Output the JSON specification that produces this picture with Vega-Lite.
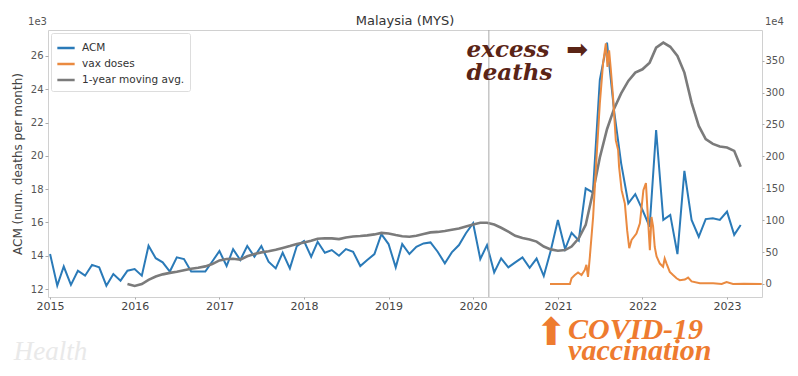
{
  "$schema": "https://vega.github.io/schema/vega-lite/v6.json",
  "width": 714,
  "height": 267,
  "autosize": {"type": "none"},
  "padding": {"left": 48, "top": 30, "right": 36, "bottom": 79},
  "background": "white",
  "config": {
    "font": "DejaVu Sans",
    "view": {"stroke": "#d0d0d0", "strokeWidth": 1},
    "axis": {"domain": false, "grid": false, "labelColor": "#555555", "tickColor": "#aaaaaa", "labelFont": "DejaVu Sans", "titleFont": "DejaVu Sans", "titleFontWeight": "normal", "titleColor": "#444444", "labelOverlap": false},
    "legend": {"orient": "top-left", "offset": 3, "strokeColor": "#dddddd", "fillColor": "white", "padding": 5, "cornerRadius": 2, "symbolType": "stroke", "symbolStrokeWidth": 2.5, "symbolSize": 300, "labelFontSize": 10.5, "labelColor": "#333333", "labelFont": "DejaVu Sans", "rowPadding": -1, "labelOffset": 6}
  },
  "title": {"text": "Malaysia (MYS)", "fontSize": 13, "fontWeight": "normal", "color": "#333333", "offset": 4, "dy": 15, "font": "DejaVu Sans"},
  "datasets": {
    "acm": [
      {"date": "2015-01-01", "series": "ACM", "value": 14.1},
      {"date": "2015-02-01", "series": "ACM", "value": 12.2},
      {"date": "2015-03-01", "series": "ACM", "value": 13.35},
      {"date": "2015-04-01", "series": "ACM", "value": 12.25},
      {"date": "2015-05-01", "series": "ACM", "value": 13.1},
      {"date": "2015-06-01", "series": "ACM", "value": 12.8},
      {"date": "2015-07-01", "series": "ACM", "value": 13.45},
      {"date": "2015-08-01", "series": "ACM", "value": 13.3},
      {"date": "2015-09-01", "series": "ACM", "value": 12.2},
      {"date": "2015-10-01", "series": "ACM", "value": 12.9},
      {"date": "2015-11-01", "series": "ACM", "value": 12.5},
      {"date": "2015-12-01", "series": "ACM", "value": 13.1},
      {"date": "2016-01-01", "series": "ACM", "value": 13.2},
      {"date": "2016-02-01", "series": "ACM", "value": 12.8},
      {"date": "2016-03-01", "series": "ACM", "value": 14.6},
      {"date": "2016-04-01", "series": "ACM", "value": 13.85},
      {"date": "2016-05-01", "series": "ACM", "value": 13.6},
      {"date": "2016-06-01", "series": "ACM", "value": 13.05},
      {"date": "2016-07-01", "series": "ACM", "value": 13.9},
      {"date": "2016-08-01", "series": "ACM", "value": 13.8},
      {"date": "2016-09-01", "series": "ACM", "value": 13.05},
      {"date": "2016-10-01", "series": "ACM", "value": 13.05},
      {"date": "2016-11-01", "series": "ACM", "value": 13.05},
      {"date": "2016-12-01", "series": "ACM", "value": 13.65},
      {"date": "2017-01-01", "series": "ACM", "value": 14.28},
      {"date": "2017-02-01", "series": "ACM", "value": 13.38},
      {"date": "2017-03-01", "series": "ACM", "value": 14.39},
      {"date": "2017-04-01", "series": "ACM", "value": 13.74},
      {"date": "2017-05-01", "series": "ACM", "value": 14.58},
      {"date": "2017-06-01", "series": "ACM", "value": 13.94},
      {"date": "2017-07-01", "series": "ACM", "value": 14.58},
      {"date": "2017-08-01", "series": "ACM", "value": 13.64},
      {"date": "2017-09-01", "series": "ACM", "value": 13.24},
      {"date": "2017-10-01", "series": "ACM", "value": 14.18},
      {"date": "2017-11-01", "series": "ACM", "value": 13.24},
      {"date": "2017-12-01", "series": "ACM", "value": 14.58},
      {"date": "2018-01-01", "series": "ACM", "value": 14.88},
      {"date": "2018-02-01", "series": "ACM", "value": 13.94},
      {"date": "2018-03-01", "series": "ACM", "value": 14.84},
      {"date": "2018-04-01", "series": "ACM", "value": 14.18},
      {"date": "2018-05-01", "series": "ACM", "value": 14.34},
      {"date": "2018-06-01", "series": "ACM", "value": 14.0},
      {"date": "2018-07-01", "series": "ACM", "value": 14.4},
      {"date": "2018-08-01", "series": "ACM", "value": 14.24},
      {"date": "2018-09-01", "series": "ACM", "value": 13.38},
      {"date": "2018-10-01", "series": "ACM", "value": 13.74},
      {"date": "2018-11-01", "series": "ACM", "value": 14.1},
      {"date": "2018-12-01", "series": "ACM", "value": 15.3},
      {"date": "2019-01-01", "series": "ACM", "value": 14.7},
      {"date": "2019-02-01", "series": "ACM", "value": 13.3},
      {"date": "2019-03-01", "series": "ACM", "value": 14.7},
      {"date": "2019-04-01", "series": "ACM", "value": 14.1},
      {"date": "2019-05-01", "series": "ACM", "value": 14.54},
      {"date": "2019-06-01", "series": "ACM", "value": 14.74},
      {"date": "2019-07-01", "series": "ACM", "value": 14.8},
      {"date": "2019-08-01", "series": "ACM", "value": 14.24},
      {"date": "2019-09-01", "series": "ACM", "value": 13.54},
      {"date": "2019-10-01", "series": "ACM", "value": 14.2},
      {"date": "2019-11-01", "series": "ACM", "value": 14.64},
      {"date": "2019-12-01", "series": "ACM", "value": 15.35},
      {"date": "2020-01-01", "series": "ACM", "value": 15.95},
      {"date": "2020-02-01", "series": "ACM", "value": 13.8},
      {"date": "2020-03-01", "series": "ACM", "value": 14.64},
      {"date": "2020-04-01", "series": "ACM", "value": 13.0},
      {"date": "2020-05-01", "series": "ACM", "value": 13.84},
      {"date": "2020-06-01", "series": "ACM", "value": 13.3},
      {"date": "2020-07-01", "series": "ACM", "value": 13.6},
      {"date": "2020-08-01", "series": "ACM", "value": 13.9},
      {"date": "2020-09-01", "series": "ACM", "value": 13.27},
      {"date": "2020-10-01", "series": "ACM", "value": 13.83},
      {"date": "2020-11-01", "series": "ACM", "value": 12.78},
      {"date": "2020-12-01", "series": "ACM", "value": 14.3},
      {"date": "2021-01-01", "series": "ACM", "value": 16.15},
      {"date": "2021-02-01", "series": "ACM", "value": 14.4},
      {"date": "2021-03-01", "series": "ACM", "value": 15.38},
      {"date": "2021-04-01", "series": "ACM", "value": 14.92},
      {"date": "2021-05-01", "series": "ACM", "value": 18.05},
      {"date": "2021-06-01", "series": "ACM", "value": 17.8},
      {"date": "2021-07-01", "series": "ACM", "value": 24.56},
      {"date": "2021-08-01", "series": "ACM", "value": 26.8},
      {"date": "2021-09-01", "series": "ACM", "value": 22.65},
      {"date": "2021-10-01", "series": "ACM", "value": 19.55},
      {"date": "2021-11-01", "series": "ACM", "value": 17.15},
      {"date": "2021-12-01", "series": "ACM", "value": 17.7},
      {"date": "2022-01-01", "series": "ACM", "value": 16.75},
      {"date": "2022-02-01", "series": "ACM", "value": 15.74},
      {"date": "2022-03-01", "series": "ACM", "value": 21.55},
      {"date": "2022-04-01", "series": "ACM", "value": 16.15},
      {"date": "2022-05-01", "series": "ACM", "value": 16.45},
      {"date": "2022-06-01", "series": "ACM", "value": 14.1},
      {"date": "2022-07-01", "series": "ACM", "value": 19.1},
      {"date": "2022-08-01", "series": "ACM", "value": 16.15},
      {"date": "2022-09-01", "series": "ACM", "value": 15.14},
      {"date": "2022-10-01", "series": "ACM", "value": 16.2},
      {"date": "2022-11-01", "series": "ACM", "value": 16.25},
      {"date": "2022-12-01", "series": "ACM", "value": 16.15},
      {"date": "2023-01-01", "series": "ACM", "value": 16.65},
      {"date": "2023-02-01", "series": "ACM", "value": 15.25},
      {"date": "2023-03-01", "series": "ACM", "value": 15.85}
    ],
    "avg": [
      {"date": "2015-12-01", "series": "1-year moving avg.", "value": 12.3},
      {"date": "2016-01-01", "series": "1-year moving avg.", "value": 12.18},
      {"date": "2016-02-01", "series": "1-year moving avg.", "value": 12.3},
      {"date": "2016-03-01", "series": "1-year moving avg.", "value": 12.55},
      {"date": "2016-04-01", "series": "1-year moving avg.", "value": 12.75},
      {"date": "2016-05-01", "series": "1-year moving avg.", "value": 12.88},
      {"date": "2016-06-01", "series": "1-year moving avg.", "value": 12.97},
      {"date": "2016-07-01", "series": "1-year moving avg.", "value": 13.04},
      {"date": "2016-08-01", "series": "1-year moving avg.", "value": 13.13},
      {"date": "2016-09-01", "series": "1-year moving avg.", "value": 13.22},
      {"date": "2016-10-01", "series": "1-year moving avg.", "value": 13.28},
      {"date": "2016-11-01", "series": "1-year moving avg.", "value": 13.36},
      {"date": "2016-12-01", "series": "1-year moving avg.", "value": 13.5},
      {"date": "2017-01-01", "series": "1-year moving avg.", "value": 13.72},
      {"date": "2017-02-01", "series": "1-year moving avg.", "value": 13.8},
      {"date": "2017-03-01", "series": "1-year moving avg.", "value": 13.82},
      {"date": "2017-04-01", "series": "1-year moving avg.", "value": 13.76},
      {"date": "2017-05-01", "series": "1-year moving avg.", "value": 13.97},
      {"date": "2017-06-01", "series": "1-year moving avg.", "value": 14.1},
      {"date": "2017-07-01", "series": "1-year moving avg.", "value": 14.2},
      {"date": "2017-08-01", "series": "1-year moving avg.", "value": 14.27},
      {"date": "2017-09-01", "series": "1-year moving avg.", "value": 14.36},
      {"date": "2017-10-01", "series": "1-year moving avg.", "value": 14.47},
      {"date": "2017-11-01", "series": "1-year moving avg.", "value": 14.58},
      {"date": "2017-12-01", "series": "1-year moving avg.", "value": 14.7},
      {"date": "2018-01-01", "series": "1-year moving avg.", "value": 14.8},
      {"date": "2018-02-01", "series": "1-year moving avg.", "value": 14.9},
      {"date": "2018-03-01", "series": "1-year moving avg.", "value": 15.02},
      {"date": "2018-04-01", "series": "1-year moving avg.", "value": 15.05},
      {"date": "2018-05-01", "series": "1-year moving avg.", "value": 15.04},
      {"date": "2018-06-01", "series": "1-year moving avg.", "value": 15.0},
      {"date": "2018-07-01", "series": "1-year moving avg.", "value": 15.1},
      {"date": "2018-08-01", "series": "1-year moving avg.", "value": 15.15},
      {"date": "2018-09-01", "series": "1-year moving avg.", "value": 15.18},
      {"date": "2018-10-01", "series": "1-year moving avg.", "value": 15.22},
      {"date": "2018-11-01", "series": "1-year moving avg.", "value": 15.28},
      {"date": "2018-12-01", "series": "1-year moving avg.", "value": 15.37},
      {"date": "2019-01-01", "series": "1-year moving avg.", "value": 15.33},
      {"date": "2019-02-01", "series": "1-year moving avg.", "value": 15.24},
      {"date": "2019-03-01", "series": "1-year moving avg.", "value": 15.17},
      {"date": "2019-04-01", "series": "1-year moving avg.", "value": 15.14},
      {"date": "2019-05-01", "series": "1-year moving avg.", "value": 15.2},
      {"date": "2019-06-01", "series": "1-year moving avg.", "value": 15.3},
      {"date": "2019-07-01", "series": "1-year moving avg.", "value": 15.4},
      {"date": "2019-08-01", "series": "1-year moving avg.", "value": 15.43},
      {"date": "2019-09-01", "series": "1-year moving avg.", "value": 15.49},
      {"date": "2019-10-01", "series": "1-year moving avg.", "value": 15.56},
      {"date": "2019-11-01", "series": "1-year moving avg.", "value": 15.63},
      {"date": "2019-12-01", "series": "1-year moving avg.", "value": 15.75},
      {"date": "2020-01-01", "series": "1-year moving avg.", "value": 15.88},
      {"date": "2020-02-01", "series": "1-year moving avg.", "value": 15.98},
      {"date": "2020-03-01", "series": "1-year moving avg.", "value": 15.98},
      {"date": "2020-04-01", "series": "1-year moving avg.", "value": 15.87},
      {"date": "2020-05-01", "series": "1-year moving avg.", "value": 15.68},
      {"date": "2020-06-01", "series": "1-year moving avg.", "value": 15.45},
      {"date": "2020-07-01", "series": "1-year moving avg.", "value": 15.2},
      {"date": "2020-08-01", "series": "1-year moving avg.", "value": 15.06},
      {"date": "2020-09-01", "series": "1-year moving avg.", "value": 14.98},
      {"date": "2020-10-01", "series": "1-year moving avg.", "value": 14.85},
      {"date": "2020-11-01", "series": "1-year moving avg.", "value": 14.55},
      {"date": "2020-12-01", "series": "1-year moving avg.", "value": 14.38},
      {"date": "2021-01-01", "series": "1-year moving avg.", "value": 14.3},
      {"date": "2021-02-01", "series": "1-year moving avg.", "value": 14.34},
      {"date": "2021-03-01", "series": "1-year moving avg.", "value": 14.55},
      {"date": "2021-04-01", "series": "1-year moving avg.", "value": 15.05},
      {"date": "2021-05-01", "series": "1-year moving avg.", "value": 15.85},
      {"date": "2021-06-01", "series": "1-year moving avg.", "value": 17.8},
      {"date": "2021-07-01", "series": "1-year moving avg.", "value": 19.9},
      {"date": "2021-08-01", "series": "1-year moving avg.", "value": 21.6},
      {"date": "2021-09-01", "series": "1-year moving avg.", "value": 22.85},
      {"date": "2021-10-01", "series": "1-year moving avg.", "value": 23.75},
      {"date": "2021-11-01", "series": "1-year moving avg.", "value": 24.5},
      {"date": "2021-12-01", "series": "1-year moving avg.", "value": 25.0},
      {"date": "2022-01-01", "series": "1-year moving avg.", "value": 25.2},
      {"date": "2022-02-01", "series": "1-year moving avg.", "value": 25.6},
      {"date": "2022-03-01", "series": "1-year moving avg.", "value": 26.5},
      {"date": "2022-04-01", "series": "1-year moving avg.", "value": 26.8},
      {"date": "2022-05-01", "series": "1-year moving avg.", "value": 26.55},
      {"date": "2022-06-01", "series": "1-year moving avg.", "value": 26.0},
      {"date": "2022-07-01", "series": "1-year moving avg.", "value": 25.0},
      {"date": "2022-08-01", "series": "1-year moving avg.", "value": 23.2},
      {"date": "2022-09-01", "series": "1-year moving avg.", "value": 21.8},
      {"date": "2022-10-01", "series": "1-year moving avg.", "value": 21.0},
      {"date": "2022-11-01", "series": "1-year moving avg.", "value": 20.72},
      {"date": "2022-12-01", "series": "1-year moving avg.", "value": 20.56},
      {"date": "2023-01-01", "series": "1-year moving avg.", "value": 20.5},
      {"date": "2023-02-01", "series": "1-year moving avg.", "value": 20.3},
      {"date": "2023-03-01", "series": "1-year moving avg.", "value": 19.35}
    ],
    "vax": [
      {"date": "2020-11-28", "series": "vax doses", "value": 0},
      {"date": "2021-02-22", "series": "vax doses", "value": 0},
      {"date": "2021-03-01", "series": "vax doses", "value": 9},
      {"date": "2021-03-15", "series": "vax doses", "value": 14},
      {"date": "2021-03-29", "series": "vax doses", "value": 18},
      {"date": "2021-04-13", "series": "vax doses", "value": 14},
      {"date": "2021-04-27", "series": "vax doses", "value": 22},
      {"date": "2021-05-04", "series": "vax doses", "value": 30},
      {"date": "2021-05-11", "series": "vax doses", "value": 11},
      {"date": "2021-05-19", "series": "vax doses", "value": 43},
      {"date": "2021-06-02", "series": "vax doses", "value": 105},
      {"date": "2021-06-17", "series": "vax doses", "value": 200},
      {"date": "2021-07-01", "series": "vax doses", "value": 283},
      {"date": "2021-07-15", "series": "vax doses", "value": 346},
      {"date": "2021-07-27", "series": "vax doses", "value": 377},
      {"date": "2021-08-03", "series": "vax doses", "value": 340},
      {"date": "2021-08-10", "series": "vax doses", "value": 366},
      {"date": "2021-08-17", "series": "vax doses", "value": 338},
      {"date": "2021-08-27", "series": "vax doses", "value": 293},
      {"date": "2021-09-08", "series": "vax doses", "value": 225},
      {"date": "2021-09-18", "series": "vax doses", "value": 210},
      {"date": "2021-09-22", "series": "vax doses", "value": 184},
      {"date": "2021-10-03", "series": "vax doses", "value": 147},
      {"date": "2021-10-17", "series": "vax doses", "value": 126},
      {"date": "2021-10-27", "series": "vax doses", "value": 84},
      {"date": "2021-11-05", "series": "vax doses", "value": 56},
      {"date": "2021-11-15", "series": "vax doses", "value": 69},
      {"date": "2021-12-06", "series": "vax doses", "value": 79},
      {"date": "2021-12-21", "series": "vax doses", "value": 95},
      {"date": "2022-01-05", "series": "vax doses", "value": 147},
      {"date": "2022-01-16", "series": "vax doses", "value": 158},
      {"date": "2022-01-21", "series": "vax doses", "value": 126},
      {"date": "2022-02-02", "series": "vax doses", "value": 53},
      {"date": "2022-02-09", "series": "vax doses", "value": 105},
      {"date": "2022-02-16", "series": "vax doses", "value": 90},
      {"date": "2022-02-23", "series": "vax doses", "value": 58},
      {"date": "2022-03-03", "series": "vax doses", "value": 43},
      {"date": "2022-03-17", "series": "vax doses", "value": 32},
      {"date": "2022-03-31", "series": "vax doses", "value": 27},
      {"date": "2022-04-07", "series": "vax doses", "value": 40},
      {"date": "2022-04-15", "series": "vax doses", "value": 32},
      {"date": "2022-04-29", "series": "vax doses", "value": 19},
      {"date": "2022-05-13", "series": "vax doses", "value": 14},
      {"date": "2022-05-28", "series": "vax doses", "value": 9},
      {"date": "2022-06-11", "series": "vax doses", "value": 6},
      {"date": "2022-07-03", "series": "vax doses", "value": 7},
      {"date": "2022-07-17", "series": "vax doses", "value": 10},
      {"date": "2022-08-01", "series": "vax doses", "value": 4},
      {"date": "2022-09-06", "series": "vax doses", "value": 1},
      {"date": "2022-11-02", "series": "vax doses", "value": 1},
      {"date": "2022-12-09", "series": "vax doses", "value": 0},
      {"date": "2022-12-30", "series": "vax doses", "value": 3},
      {"date": "2023-01-27", "series": "vax doses", "value": 0},
      {"date": "2023-03-15", "series": "vax doses", "value": 0.5},
      {"date": "2023-05-31", "series": "vax doses", "value": 0}
    ]
  },
  "layer": [
    {
      "layer": [
        {
          "data": {"name": "acm"},
          "mark": {"type": "line", "strokeWidth": 2, "clip": false},
          "encoding": {
            "x": {"field": "date", "type": "temporal", "scale": {"domain": [{"year": 2014, "month": 12, "date": 23}, {"year": 2023, "month": 6, "date": 1}]}, "axis": {"title": null, "format": "%Y", "tickCount": {"interval": "year", "step": 1}, "labelFontSize": 11, "tickSize": 2, "labelPadding": 1, "labelColor": "#444444"}},
            "y": {"field": "value", "type": "quantitative", "scale": {"domain": [11.52, 27.56], "nice": false, "zero": false}, "axis": {"title": "ACM (num. deaths per month)", "titleFontSize": 12, "values": [12, 14, 16, 18, 20, 22, 24, 26], "tickCount": 8, "labelOverlap": false, "labelFontSize": 10, "tickSize": 3, "labelPadding": 2, "titlePadding": 6}},
            "color": {"field": "series", "type": "nominal", "scale": {"domain": ["ACM", "vax doses", "1-year moving avg."], "range": ["#2a7ab8", "#ea8a40", "#7b7b7b"]}, "legend": {"title": null}}
          }
        },
        {
          "data": {"name": "avg"},
          "mark": {"type": "line", "strokeWidth": 2.6},
          "encoding": {
            "x": {"field": "date", "type": "temporal"},
            "y": {"field": "value", "type": "quantitative"},
            "color": {"field": "series", "type": "nominal"}
          }
        },
        {
          "data": {"values": [{}]},
          "mark": {"type": "rule", "color": "#a8a8a8", "strokeWidth": 1},
          "encoding": {"x": {"datum": {"year": 2020, "month": 3, "date": 9}, "type": "temporal"}}
        },
        {
          "data": {"values": [{}]},
          "mark": {"type": "text", "text": ["excess", "deaths"], "font": "DejaVu Serif", "fontStyle": "italic", "fontWeight": "bold", "fontSize": 23, "lineHeight": 23, "align": "left", "baseline": "alphabetic", "color": "#5a2416"},
          "encoding": {"x": {"datum": {"year": 2019, "month": 12, "date": 4}, "type": "temporal"}, "y": {"datum": 25.94, "type": "quantitative"}}
        },
        {
          "data": {"values": [{}]},
          "mark": {"type": "text", "text": "➡", "font": "DejaVu Sans", "fontSize": 26, "align": "center", "baseline": "middle", "color": "#5a2416"},
          "encoding": {"x": {"datum": {"year": 2021, "month": 3, "date": 25}, "type": "temporal"}, "y": {"datum": 26.36, "type": "quantitative"}}
        },
        {
          "data": {"values": [{}]},
          "mark": {"type": "text", "text": ["COVID-19", "vaccination"], "font": "Liberation Serif", "fontStyle": "italic", "fontWeight": "bold", "fontSize": 30, "lineHeight": 21, "align": "left", "baseline": "alphabetic", "color": "#ee7b2f"},
          "encoding": {"x": {"datum": {"year": 2021, "month": 2, "date": 14}, "type": "temporal"}, "y": {"datum": 9.0, "type": "quantitative"}}
        },
        {
          "data": {"values": [{}]},
          "mark": {"type": "text", "text": "⬆", "font": "DejaVu Sans", "fontSize": 38, "align": "center", "baseline": "middle", "color": "#ee7b2f"},
          "encoding": {"x": {"datum": {"year": 2020, "month": 12, "date": 4}, "type": "temporal"}, "y": {"datum": 9.3, "type": "quantitative"}}
        },
        {
          "data": {"values": [{}]},
          "mark": {"type": "text", "text": "1e3", "font": "DejaVu Sans", "fontSize": 10, "align": "right", "baseline": "middle", "dx": -1, "color": "#555555"},
          "encoding": {"x": {"datum": {"year": 2014, "month": 12, "date": 23}, "type": "temporal"}, "y": {"datum": 28.05, "type": "quantitative"}}
        },
        {
          "data": {"values": [{}]},
          "mark": {"type": "text", "text": "Health", "font": "Liberation Serif", "fontStyle": "italic", "fontSize": 27, "align": "left", "baseline": "alphabetic", "color": "#e9e9e9"},
          "encoding": {"x": {"datum": {"year": 2014, "month": 7, "date": 28}, "type": "temporal"}, "y": {"datum": 7.75, "type": "quantitative"}}
        }
      ]
    },
    {
      "layer": [
        {
          "data": {"name": "vax"},
          "mark": {"type": "line", "strokeWidth": 2},
          "encoding": {
            "x": {"field": "date", "type": "temporal"},
            "y": {"field": "value", "type": "quantitative", "scale": {"domain": [-20.4, 398], "nice": false, "zero": false}, "axis": {"orient": "right", "title": null, "values": [0, 50, 100, 150, 200, 250, 300, 350], "tickCount": 8, "labelOverlap": false, "labelFontSize": 10, "tickSize": 2, "labelPadding": 1}},
            "color": {"field": "series", "type": "nominal"}
          }
        },
        {
          "data": {"values": [{}]},
          "mark": {"type": "text", "text": "1e4", "font": "DejaVu Sans", "fontSize": 10, "align": "left", "baseline": "middle", "dx": 3, "color": "#555555"},
          "encoding": {"x": {"datum": {"year": 2023, "month": 6, "date": 1}, "type": "temporal"}, "y": {"datum": 410.7, "type": "quantitative"}}
        }
      ]
    }
  ],
  "resolve": {"scale": {"y": "independent"}}
}
